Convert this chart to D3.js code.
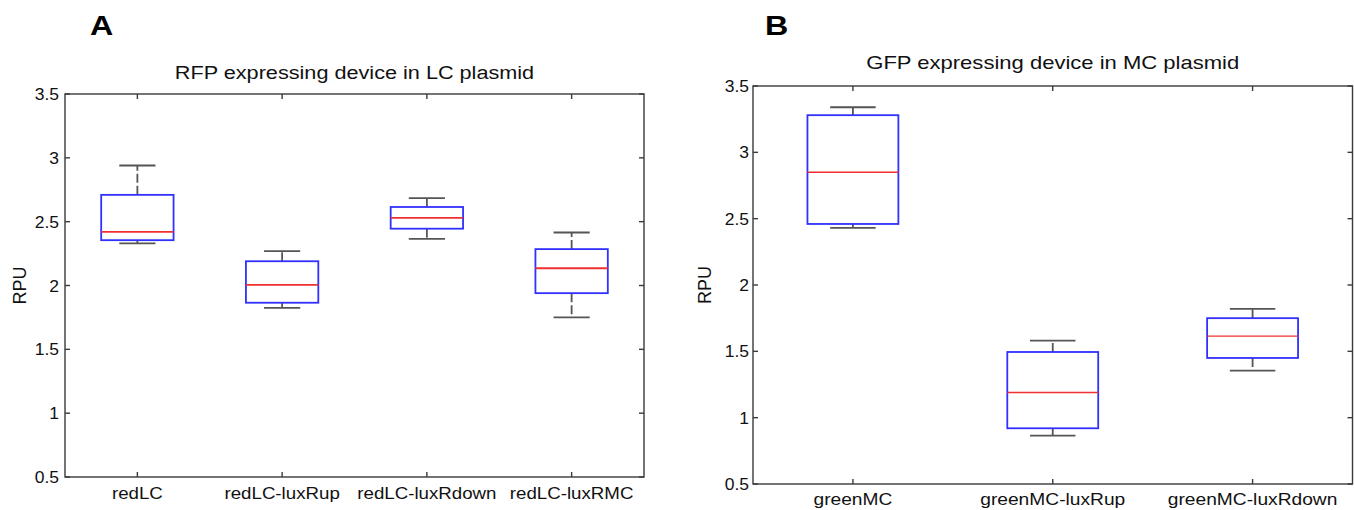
<!DOCTYPE html>
<html>
<head>
<meta charset="utf-8">
<script src="https://cdn.jsdelivr.net/npm/d3@7"></script>
<style>
  html, body { margin: 0; padding: 0; background: #fff; }
  svg { display: block; font-family: "Liberation Sans", Arial, sans-serif; }
</style>
</head>
<body>
<svg id="chart" width="1354" height="510"></svg>
<script>
// ---- Data ----
const catsA = ["redLC", "redLC-luxRup", "redLC-luxRdown", "redLC-luxRMC"];
const lowA  = [2.33, 1.825, 2.365, 1.75];
const q1A   = [2.355, 1.865, 2.445, 1.94];
const medA  = [2.42, 2.005, 2.53, 2.135];
const q3A   = [2.71, 2.19, 2.615, 2.285];
const highA = [2.94, 2.27, 2.685, 2.415];

const catsB = ["greenMC", "greenMC-luxRup", "greenMC-luxRdown"];
const lowB  = [2.43, 0.865, 1.355];
const q1B   = [2.46, 0.92, 1.45];
const medB  = [2.85, 1.19, 1.615];
const q3B   = [3.28, 1.495, 1.75];
const highB = [3.34, 1.58, 1.82];

const yTicks = [0.5, 1, 1.5, 2, 2.5, 3, 3.5];
const yTickLabels = ["0.5", "1", "1.5", "2", "2.5", "3", "3.5"];
const yDomain = [0.5, 3.5];

const titleA = "RFP expressing device in LC plasmid";
const titleB = "GFP expressing device in MC plasmid";
const yLabel = "RPU";

const svg = d3.select("#chart");

function stretchedText(g, x, y, txt, size, sx, anchor) {
  return g.append("text")
    .attr("transform", `translate(${x},${y}) scale(${sx},1)`)
    .attr("text-anchor", anchor).attr("font-size", size).attr("fill", "#111")
    .text(txt);
}

function panel(opts) {
  const { cats, low, q1, med, q3, high, left, right, top, bottom, boxW, title, titleY, titleSX,
          letter, letterX, tickLabelGap, yLabelX, xLabelY, xLabelSX, medW } = opts;
  const g = svg.append("g");
  const x = d3.scaleLinear().domain([0.5, cats.length + 0.5]).range([left, right]);
  const y = d3.scaleLinear().domain(yDomain).range([bottom, top]);
  const axisColor = "#3a3a3a";
  const tickLen = 5;

  // frame
  g.append("rect").attr("x", left).attr("y", top)
    .attr("width", right - left).attr("height", bottom - top)
    .attr("fill", "none").attr("stroke", axisColor).attr("stroke-width", 1.4);

  // y ticks (inward, both sides)
  yTicks.forEach((t, i) => {
    const yy = y(t);
    g.append("line").attr("x1", left).attr("x2", left + tickLen).attr("y1", yy).attr("y2", yy)
      .attr("stroke", axisColor).attr("stroke-width", 1.4);
    g.append("line").attr("x1", right).attr("x2", right - tickLen).attr("y1", yy).attr("y2", yy)
      .attr("stroke", axisColor).attr("stroke-width", 1.4);
    stretchedText(g, left - tickLabelGap, yy + 6, yTickLabels[i], 16.5, 1.06, "end");
  });

  // x ticks (inward, top and bottom)
  cats.forEach((c, i) => {
    const xx = x(i + 1);
    g.append("line").attr("x1", xx).attr("x2", xx).attr("y1", bottom).attr("y2", bottom - tickLen)
      .attr("stroke", axisColor).attr("stroke-width", 1.4);
    g.append("line").attr("x1", xx).attr("x2", xx).attr("y1", top).attr("y2", top + tickLen)
      .attr("stroke", axisColor).attr("stroke-width", 1.4);
    stretchedText(g, xx, xLabelY, c, 17, xLabelSX, "middle");
  });

  // boxes
  const unit = x(1) - x(0);
  cats.forEach((c, i) => {
    const cx = x(i + 1);
    const hw = boxW * unit / 2;
    const cw = hw / 2;
    // whiskers (dashed)
    g.append("line").attr("x1", cx).attr("x2", cx).attr("y1", y(q3[i])).attr("y2", y(high[i]))
      .attr("stroke", "#555").attr("stroke-width", 1.8).attr("stroke-dasharray", "9,3");
    g.append("line").attr("x1", cx).attr("x2", cx).attr("y1", y(q1[i])).attr("y2", y(low[i]))
      .attr("stroke", "#555").attr("stroke-width", 1.8).attr("stroke-dasharray", "9,3");
    // caps
    [high[i], low[i]].forEach(v => {
      g.append("line").attr("x1", cx - cw).attr("x2", cx + cw).attr("y1", y(v)).attr("y2", y(v))
        .attr("stroke", "#555").attr("stroke-width", 1.8);
    });
    // box
    g.append("rect").attr("x", cx - hw).attr("y", y(q3[i]))
      .attr("width", 2 * hw).attr("height", y(q1[i]) - y(q3[i]))
      .attr("fill", "none").attr("stroke", "#3030ff").attr("stroke-width", 1.8);
    // median
    g.append("line").attr("x1", cx - hw).attr("x2", cx + hw).attr("y1", y(med[i])).attr("y2", y(med[i]))
      .attr("stroke", "#f03030").attr("stroke-width", medW);
  });

  // title
  stretchedText(g, (left + right) / 2, titleY, title, 19, titleSX, "middle");

  // y label
  g.append("text").attr("transform", `translate(${yLabelX},${(top + bottom) / 2}) rotate(-90)`)
    .attr("text-anchor", "middle").attr("font-size", 18).attr("fill", "#111").text(yLabel);

  // panel letter
  g.append("text").attr("transform", `translate(${letterX},35) scale(1.15,1)`)
    .attr("font-size", 28).attr("font-weight", "bold").attr("fill", "#000").text(letter);
}

panel({ cats: catsA, low: lowA, q1: q1A, med: medA, q3: q3A, high: highA,
  left: 65, right: 644, top: 94, bottom: 477, boxW: 0.5,
  title: titleA, titleY: 79, titleSX: 1.14, letter: "A", letterX: 90, tickLabelGap: 6,
  yLabelX: 26, xLabelY: 499, xLabelSX: 1.1, medW: 1.8 });

panel({ cats: catsB, low: lowB, q1: q1B, med: medB, q3: q3B, high: highB,
  left: 753, right: 1352.5, top: 86, bottom: 484, boxW: 0.455,
  title: titleB, titleY: 69, titleSX: 1.16, letter: "B", letterX: 765, tickLabelGap: 4,
  yLabelX: 711, xLabelY: 505, xLabelSX: 1.13, medW: 1.4 });
</script>
</body>
</html>
